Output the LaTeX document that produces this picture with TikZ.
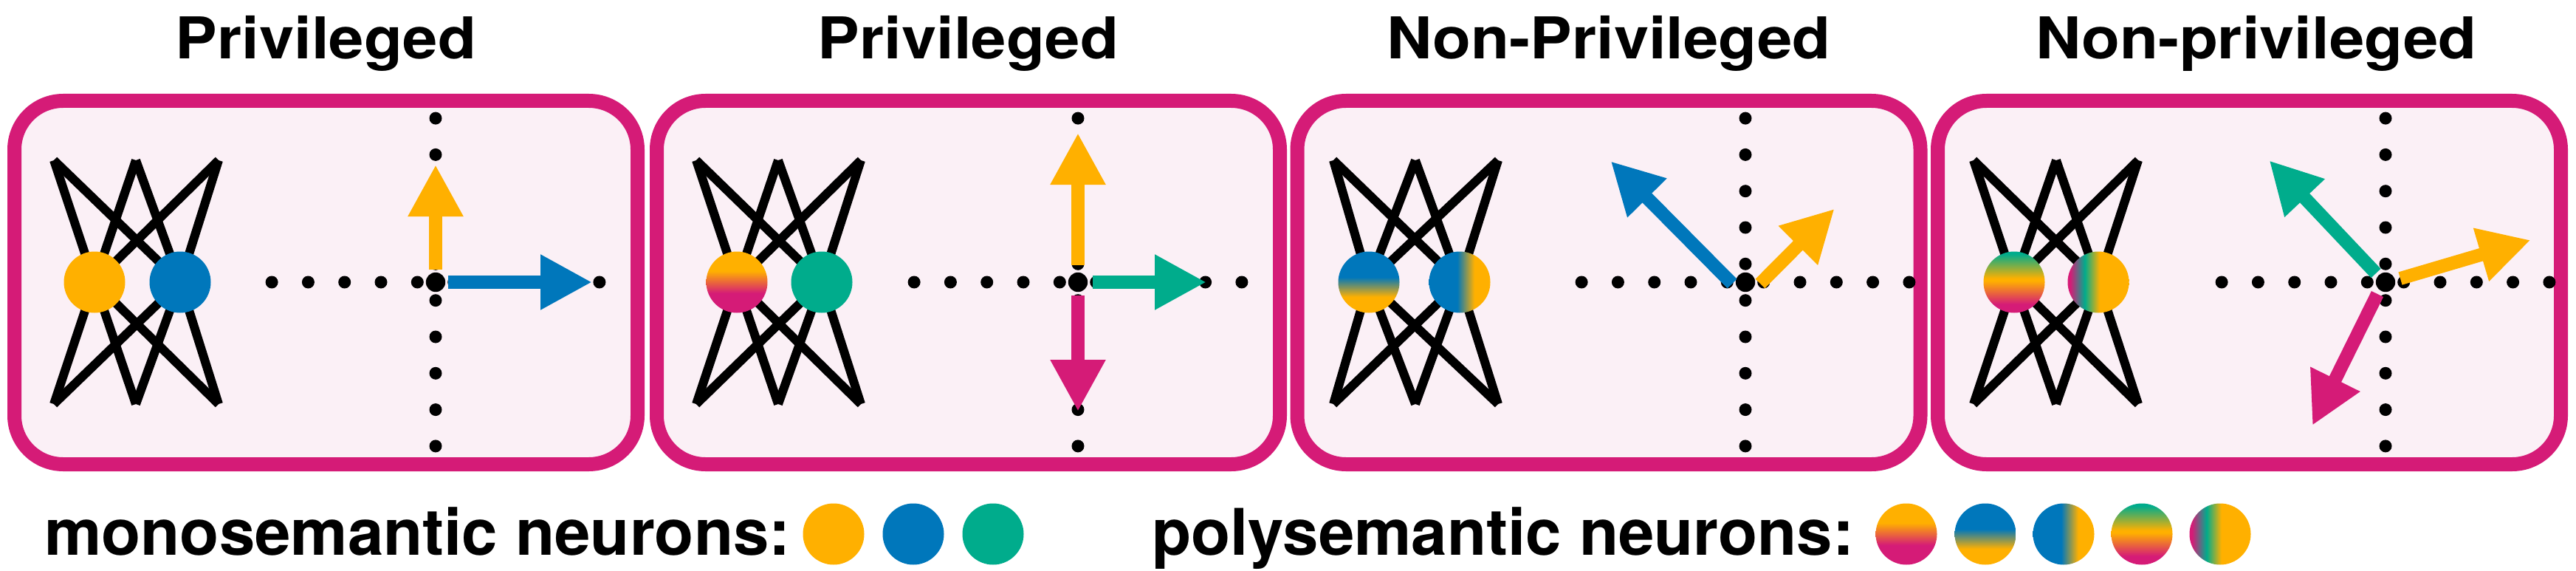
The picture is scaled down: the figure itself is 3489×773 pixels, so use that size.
\documentclass[tikz,border=0pt]{standalone}
\usepackage{fontspec}
\setmainfont{TeX Gyre Heros}
\usepackage{graphicx}
\usetikzlibrary{arrows.meta}
\definecolor{yel}{HTML}{FFB000}
\definecolor{blu}{HTML}{0077BB}
\definecolor{grn}{HTML}{00AC8C}
\definecolor{pnk}{HTML}{D51B77}
\definecolor{bgp}{HTML}{FBF0F6}
\pgfdeclareverticalshading{ypV}{100bp}{color(0bp)=(pnk); color(41bp)=(pnk); color(59bp)=(yel); color(100bp)=(yel)}
\pgfdeclareverticalshading{byV}{100bp}{color(0bp)=(yel); color(38bp)=(yel); color(54bp)=(blu); color(100bp)=(blu)}
\pgfdeclarehorizontalshading{byH}{100bp}{color(0bp)=(blu); color(48bp)=(blu); color(62bp)=(yel); color(100bp)=(yel)}
\pgfdeclareverticalshading{gypV}{100bp}{color(0bp)=(pnk); color(32bp)=(pnk); color(51bp)=(yel); color(53bp)=(yel); color(73bp)=(grn); color(100bp)=(grn)}
\pgfdeclarehorizontalshading{pgyH}{100bp}{color(0bp)=(pnk); color(27bp)=(pnk); color(39bp)=(grn); color(51bp)=(yel); color(100bp)=(yel)}
\tikzset{
  panelbox/.style={draw=pnk, line width=19pt, fill=bgp, rounded corners=66pt, minimum width=844pt, minimum height=492pt, inner sep=0pt},
  netline/.style={line width=12pt, black},
  neuron/.style={circle, inner sep=0pt, minimum size=83pt},
  bigdot/.style={circle, fill=black, inner sep=0pt, minimum size=26.4pt},
  vec/.style={line width=18pt, -{Triangle[length=70pt,width=70pt]}},
  titletext/.style={anchor=base, inner sep=0pt, font=\fontsize{78}{90}\selectfont\bfseries},
  legtext/.style={anchor=base west, inner sep=0pt, font=\fontsize{87}{100}\selectfont\bfseries}
}
\newcommand{\drawnet}[6]{%
  \coordinate (#1t1) at (#2,217); \coordinate (#1t2) at (#3,217); \coordinate (#1t3) at (#4,217);
  \coordinate (#1b1) at (#2,547); \coordinate (#1b2) at (#3,547); \coordinate (#1b3) at (#4,547);
  \coordinate (#1m1) at (#5,382); \coordinate (#1m2) at (#6,382);
  \foreach \a in {t1,t2,t3,b1,b2,b3}{\foreach \b in {m1,m2}{\draw[netline] (#1\a) -- (#1\b);}}
}
\newcommand{\drawaxes}[2]{%
  \foreach \k in {0,...,4}{%
    \fill ({#2+24.7+49.3*\k},382) circle[radius=8.5pt];
    \fill ({#2-24.7-49.3*\k},382) circle[radius=8.5pt];
    \fill (#2,{382+24.7+49.3*\k}) circle[radius=8.5pt];
    \fill (#2,{382-24.7-49.3*\k}) circle[radius=8.5pt];
  }
  \node[bigdot] (#1o) at (#2,382) {};
}
\begin{document}
\begin{tikzpicture}[x=1pt, y=-1pt]
\useasboundingbox (0,0) rectangle (3489,773);
\fill[white] (0,0) rectangle (3489,773);

% titles
\node[titletext] (title1) at (441.5,79.3) {\scalebox{1.09}[1]{Privileged}};
\node[titletext] (title2) at (1311.5,79.3) {\scalebox{1.09}[1]{Privileged}};
\node[titletext] (title3) at (2179,79.3) {\scalebox{1.09}[1]{Non-Privileged}};
\node[titletext] (title4) at (3056,79.3) {\scalebox{1.09}[1]{Non-privileged}};

% panel boxes
\node[panelbox] (box1) at (441.5,382.5) {};
\node[panelbox] (box2) at (1311.5,382.5) {};
\node[panelbox] (box3) at (2179,382.5) {};
\node[panelbox] (box4) at (3046.5,382.5) {};

% networks
\drawnet{A}{73}{184}{296}{128}{244}
\drawnet{B}{943}{1054}{1166}{998}{1113}
\drawnet{C}{1806}{1917}{2029}{1854}{1977}
\drawnet{D}{2673}{2785}{2896}{2728}{2842}

\node[neuron, fill=yel] (n1a) at (Am1) {};
\node[neuron, fill=blu] (n1b) at (Am2) {};
\node[neuron, shading=ypV] (n2a) at (Bm1) {};
\node[neuron, fill=grn] (n2b) at (Bm2) {};
\node[neuron, shading=byV] (n3a) at (Cm1) {};
\node[neuron, shading=byH] (n3b) at (Cm2) {};
\node[neuron, shading=gypV] (n4a) at (Dm1) {};
\node[neuron, shading=pgyH] (n4b) at (Dm2) {};

% axes
\drawaxes{A}{590}
\drawaxes{B}{1460}
\drawaxes{C}{2364}
\drawaxes{D}{3231}

% panel 1 vectors
\coordinate (A-y) at (590,223);
\coordinate (A-b) at (802,382);
\draw[vec, yel, shorten <=17pt] (Ao.center) -- (A-y);
\draw[vec, blu, shorten <=17pt] (Ao.center) -- (A-b);

% panel 2 vectors
\coordinate (B-y) at (1460,180);
\coordinate (B-p) at (1460,557);
\coordinate (B-g) at (1634,382);
\draw[vec, yel, shorten <=23pt] (Bo.center) -- (B-y);
\draw[vec, pnk, shorten <=18pt] (Bo.center) -- (B-p);
\draw[vec, grn, shorten <=20pt] (Bo.center) -- (B-g);

% panel 3 vectors
\coordinate (C-bs) at (2346,384);
\coordinate (C-b) at (2181.6,218.3);
\coordinate (C-ys) at (2384,384);
\coordinate (C-y) at (2484.7,282.7);
\draw[vec, blu] (C-bs) -- (C-b);
\draw[vec, yel] (C-ys) -- (C-y);

% panel 4 vectors
\coordinate (D-gs) at (3218,370);
\coordinate (D-g) at (3073.5,217.3);
\coordinate (D-ys) at (3251,377);
\coordinate (D-y) at (3427.6,325);
\coordinate (D-ps) at (3220,398);
\coordinate (D-p) at (3131.9,576);
\draw[vec, grn] (D-gs) -- (D-g);
\draw[vec, yel] (D-ys) -- (D-y);
\draw[vec, pnk] (D-ps) -- (D-p);

% legend
\node[legtext] (monotxt) at (60,751) {monosemantic neurons:};
\node[neuron, fill=yel] (m1) at (1129,723) {};
\node[neuron, fill=blu] (m2) at (1237,723) {};
\node[neuron, fill=grn] (m3) at (1345,723) {};
\node[legtext] (polytxt) at (1560,751) {polysemantic neurons:};
\node[neuron, shading=ypV] (q1) at (2582,723) {};
\node[neuron, shading=byV] (q2) at (2689,723) {};
\node[neuron, shading=byH] (q3) at (2795,723) {};
\node[neuron, shading=gypV] (q4) at (2901,723) {};
\node[neuron, shading=pgyH] (q5) at (3007,723) {};
\end{tikzpicture}
\end{document}
